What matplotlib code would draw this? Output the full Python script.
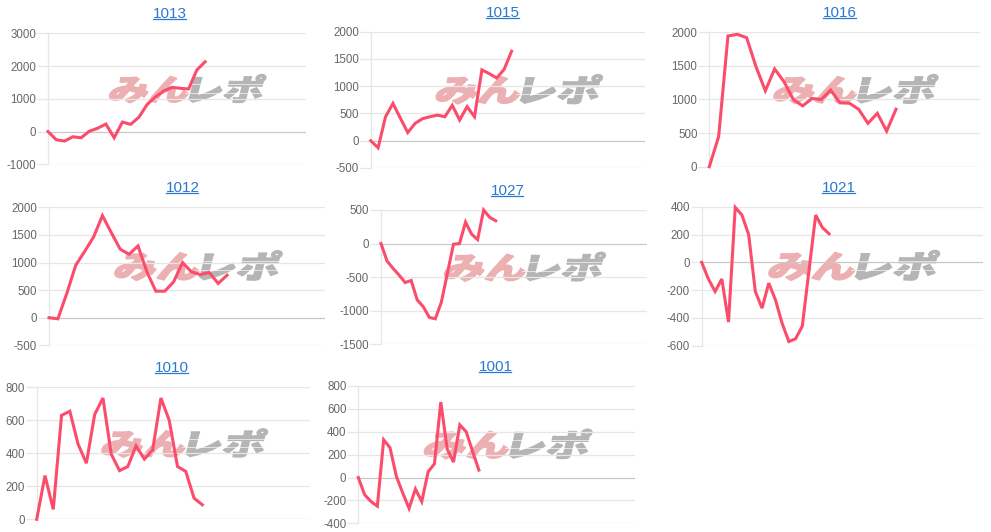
import numpy as np
import matplotlib
matplotlib.use('Agg')
import matplotlib.pyplot as plt
import matplotlib.transforms as mtransforms
from matplotlib.textpath import TextPath
from matplotlib.patches import PathPatch
from matplotlib.font_manager import FontProperties
from matplotlib.lines import Line2D

W, H = 991, 532

# --- data ---
titles = ['1013', '1015', '1016', '1012', '1027', '1021', '1010', '1001']

v1013 = [0, -250, -290, -160, -190, 10, 100, 230, -190, 290, 220, 440,
         830, 1060, 1240, 1350, 1320, 1300, 1880, 2130]
v1015 = [0, -130, 440, 685, 415, 150, 320, 405, 440, 470, 440, 650,
         380, 625, 440, 1300, 1230, 1150, 1310, 1640]
v1016 = [0, 447, 1945, 1970, 1920, 1490, 1130, 1455, 1265, 1000, 905,
         1015, 1000, 1140, 950, 945, 855, 645, 795, 530, 855]
v1012 = [0, -20, 440, 950, 1200, 1460, 1850, 1540, 1240, 1150, 1300,
         830, 480, 480, 650, 1000, 830, 780, 820, 620, 770]
v1027 = [0, -260, -370, -470, -580, -550, -840, -940, -1100, -1120,
         -870, -440, -10, 0, 320, 140, 60, 500, 390, 340]
v1021 = [0, -120, -210, -120, -430, 395, 340, 200, -210, -330, -150,
         -270, -440, -570, -550, -460, -60, 340, 250, 205]
v1010 = [0, 265, 60, 630, 655, 455, 340, 635, 735, 395, 295, 320, 445,
         365, 420, 735, 600, 320, 290, 128, 88]
v1001 = [0, -150, -210, -250, 330, 260, 10, -135, -270, -100, -210, 50,
         120, 660, 250, 135, 460, 400, 230, 65]
series = [v1013, v1015, v1016, v1012, v1027, v1021, v1010, v1001]

# y axis (min, max, step)
y_ranges = [(-1000, 3000, 1000), (-500, 2000, 500), (0, 2000, 500),
            (-500, 2000, 500), (-1500, 500, 500), (-600, 400, 200),
            (0, 800, 200), (-400, 800, 200)]

# --- layout (pixels): plot box left, right, top, bottom / title centre / x extent ---
boxes = [(48, 306, 33.3, 164.3), (370.7, 645, 31.7, 168), (709.3, 980, 32.3, 166.7),
         (49, 325, 207.3, 345.3), (381, 646.7, 210, 344.3), (701.7, 983.3, 206.7, 345.7),
         (36.7, 310, 387.3, 519.3), (358.3, 635, 386, 523.3)]
title_pos = [(170, 14), (503, 13), (840, 13), (182.7, 188), (507.7, 191),
             (839, 188), (172.3, 368), (495.7, 367)]
x_extent = [31.2, 37, 29, 31, 44, 42, 33, 43.6]

LINE = '#fc4c6c'
GRID = '#e6e6e6'
ZERO = '#c8c8c8'
TITLE = '#2a78d0'

logo_font = FontProperties(family='Noto Sans CJK JP', weight='black')


def add_logo(ax):
    x0, y0 = ax.transAxes.transform((0.232, 0.47))
    x1, y1 = ax.transAxes.transform((0.848, 0.685))
    parts = [('みん', '#ecb0b3'), ('レポ', '#b5b5b5')]
    paths = [TextPath((0, 0), t, size=10, prop=logo_font) for t, _ in parts]
    exts = [p.get_extents() for p in paths]
    gap = 0.5
    total_w = exts[0].width + gap + exts[1].width
    ymin = min(e.y0 for e in exts)
    h = max(e.y1 for e in exts) - ymin
    sy = (y1 - y0) / h
    skew = np.tan(np.deg2rad(14)) * (y1 - y0)
    sx = (x1 - x0 - skew) / total_w
    off = 0
    for (txt, col), p, e in zip(parts, paths, exts):
        tr = (mtransforms.Affine2D().translate(-e.x0 + off, -ymin)
              .scale(sx, sy).skew_deg(14, 0).translate(x0, y0))
        ax.add_patch(PathPatch(p, transform=tr, fc=col, ec=col, lw=1.1,
                               zorder=0.5, clip_on=False))
        off += e.width + gap
    # thin white speed lines through the gray half
    inv = ax.transAxes.inverted()
    for f in (0.35, 0.65):
        yy = y0 + f * (y1 - y0)
        xa = x0 + 0.47 * (x1 - x0) + f * skew
        (ax0, ay), (ax1, _) = inv.transform([(xa, yy), (x1 + 2, yy)])
        ax.plot([ax0, ax1], [ay, ay], color='white', lw=0.45,
                transform=ax.transAxes, zorder=0.6, clip_on=False)


fig = plt.figure(figsize=(W / 100, H / 100), dpi=100)
plt.rcParams['font.family'] = ['Liberation Sans', 'DejaVu Sans']

title_texts = []
for i, vals in enumerate(series):
    L, R, T, B = boxes[i]
    ax = fig.add_axes([L / W, 1 - B / H, (R - L) / W, (B - T) / H])
    ymin, ymax, step = y_ranges[i]
    ticks = np.arange(ymin, ymax + 1, step)
    ax.set_xlim(0, x_extent[i])
    ax.set_ylim(ymin, ymax)
    ax.set_yticks(ticks)
    ax.set_yticklabels([str(t) for t in ticks])
    ax.set_xticks([])
    for t in ticks:
        ax.axhline(t, color=ZERO if t == 0 else GRID, lw=0.9, zorder=0.8)
    for s in ['top', 'right', 'bottom']:
        ax.spines[s].set_visible(False)
    ax.spines['left'].set_color(GRID)
    ax.spines['left'].set_linewidth(0.9)
    ax.tick_params(axis='y', length=8, width=0.9, color=GRID,
                   labelcolor='#666666', labelsize=8.3, pad=0.5)
    ax.patch.set_alpha(0)
    add_logo(ax)
    ax.plot(range(len(vals)), vals, color=LINE, lw=2.2, zorder=3,
            solid_joinstyle='miter', clip_on=False)
    cx, cy = title_pos[i]
    title_texts.append(fig.text(cx / W, 1 - cy / H, titles[i], color=TITLE,
                                fontsize=11, ha='center', va='center'))

# underline the titles like links
fig.canvas.draw()
r = fig.canvas.get_renderer()
for t in title_texts:
    bb = t.get_window_extent(r)
    yy = (bb.y0 + 2) / H
    fig.add_artist(Line2D([bb.x0 / W, (bb.x1 - 1.5) / W], [yy, yy],
                          color=TITLE, lw=0.9))

fig.savefig('out.png', dpi=100)
